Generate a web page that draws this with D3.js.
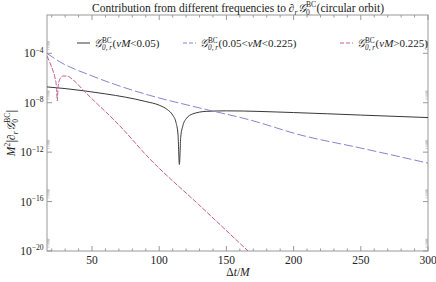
<!DOCTYPE html>
<html><head><meta charset="utf-8">
<script src="https://cdn.jsdelivr.net/npm/d3@7"></script>
<style>
body { margin: 0; background: #fff; }
text { font-family: 'Liberation Serif', 'DejaVu Serif', serif; fill: #222; }
</style>
</head><body>
<script>
const WIDTH = 436
const HEIGHT = 282

// Δt/M values and |value| for each frequency band
const lowT = [16.5, 30, 45, 60, 75, 90, 100, 106, 110, 112.5, 114, 115, 116, 117.5, 120, 125, 135, 150, 200, 250, 300]
const lowV = [1.9e-7, 1.4e-7, 8.9e-8, 5.2e-8, 2.8e-8, 1.25e-8, 6.3e-9, 2.8e-9, 1e-9, 2.5e-10, 2.5e-11, 1e-13, 1.6e-11, 1.25e-10, 5e-10, 1.25e-9, 2e-9, 2.2e-9, 1.6e-9, 1e-9, 6.3e-10]

const midT = [16.5, 26.2, 48.5, 70.8, 91.7, 130.4, 167.6, 204.8, 249.5, 300]
const midV = [1e-4, 2e-5, 1.7e-6, 2.2e-7, 4.3e-8, 3.7e-9, 4e-10, 2.5e-11, 2.2e-12, 1.3e-13]

const highT = [16.5, 18.7, 21.0, 22.5, 23.6, 24.2, 24.7, 25.8, 28.4, 31.4, 35.9, 44.8, 70.8, 91.7, 130.4, 166.1]
const highV = [6e-5, 1.7e-5, 3.7e-6, 1e-6, 1.6e-7, 1.4e-8, 1.6e-7, 7e-7, 1.45e-6, 1.45e-6, 7e-7, 7.4e-8, 1.3e-10, 4e-13, 4.5e-17, 1e-20]

const xTicks = [50, 100, 150, 200, 250, 300]
const yTicks = [1e-4, 1e-8, 1e-12, 1e-16, 1e-20]
const yTickExp = ['4', '8', '12', '16', '20']

const legendCut = ['<0.05)', '<0.225)', '>0.225)']
const legendPre = ['(', '(0.05<', '(']
const COLORS = ['#383838', '#8585cf', '#c45c92']
const DASHES = [null, '9,3', '5,1.5']

const svg = d3.select('body').append('svg')
  .attr('width', WIDTH)
  .attr('height', HEIGHT)

const L = 47, R = 428, T = 15, B = 251

const x = d3.scaleLinear().domain([16.5, 300]).range([L, R])
const y = d3.scaleLog().domain([1e-20, Math.pow(10, -0.9)]).range([B, T])

// draws text made of pieces (plain, italic, stacked sup/sub) and returns its width
function rich(g, x0, y0, parts, size) {
  let cx = x0
  parts.forEach(p => {
    if (p.sup !== undefined || p.sub !== undefined) {
      let w = 0
      if (p.sup) {
        const a = g.append('text').attr('x', cx).attr('y', y0 - size * 0.4)
          .attr('font-size', size * 0.66).text(p.sup)
        w = a.node().getComputedTextLength()
      }
      if (p.sub) {
        const b = g.append('text').attr('x', cx).attr('y', y0 + size * 0.28)
          .attr('font-size', size * 0.66).attr('font-style', p.subIt ? 'italic' : null).text(p.sub)
        w = Math.max(w, b.node().getComputedTextLength())
      }
      cx += w + 0.5
    } else {
      const t = g.append('text').attr('x', cx).attr('y', y0)
        .attr('font-size', size).attr('font-style', p.it ? 'italic' : null).text(p.t)
      cx += t.node().getComputedTextLength()
    }
  })
  return cx - x0
}

// centred rich text
function richCentered(cx, cy, parts, size, rotate) {
  const g = svg.append('g')
  const inner = g.append('g')
  const w = rich(inner, 0, 0, parts, size)
  inner.attr('transform', `translate(${-w / 2}, 0)`)
  g.attr('transform', `translate(${cx}, ${cy})` + (rotate ? ` rotate(${rotate})` : ''))
}

// frame
svg.append('rect')
  .attr('x', L).attr('y', T).attr('width', R - L).attr('height', B - T)
  .attr('fill', 'none').attr('stroke', '#999').attr('stroke-width', 1)

// x ticks (minor every 10), bottom and top
const xMinor = d3.range(20, 301, 10)
;[[B, -1], [T, 1]].forEach(([ey, dir]) => {
  svg.selectAll(null).data(xMinor).enter().append('line')
    .attr('x1', d => x(d)).attr('x2', d => x(d))
    .attr('y1', ey).attr('y2', d => ey + dir * (d % 50 === 0 ? 5 : 2.5))
    .attr('stroke', '#999')
})
svg.selectAll('.xl').data(xTicks).enter().append('text')
  .attr('x', d => x(d)).attr('y', B + 13)
  .attr('text-anchor', 'middle').attr('font-size', 11.5)
  .text(d => d)

// y ticks, with the minor ones 2..9 x 10^k clustered above each major
const yMinor = []
yTicks.forEach(v => { for (let k = 2; k <= 9; k++) yMinor.push(v * k) })
;[[L, 1], [R, -1]].forEach(([ex, dir]) => {
  svg.selectAll(null).data(yTicks).enter().append('line')
    .attr('x1', ex).attr('x2', ex + dir * 5)
    .attr('y1', d => y(d)).attr('y2', d => y(d)).attr('stroke', '#999')
  svg.selectAll(null).data(yMinor).enter().append('line')
    .attr('x1', ex).attr('x2', ex + dir * 2.5)
    .attr('y1', d => y(d)).attr('y2', d => y(d)).attr('stroke', '#aaa').attr('stroke-width', 0.6)
})
yTicks.forEach((v, i) => {
  const g = svg.append('g')
  const w = rich(g, 0, 0, [{ t: '10' }, { sup: '−' + yTickExp[i] }], 11.5)
  g.attr('transform', `translate(${L - 3 - w}, ${y(v) + 4})`)
})

// curves
const clip = svg.append('clipPath').attr('id', 'clip')
clip.append('rect').attr('x', L).attr('y', T).attr('width', R - L).attr('height', B - T)

const line = d3.line().x(d => x(d[0])).y(d => y(d[1])).curve(d3.curveMonotoneX)
const series = [
  d3.zip(lowT, lowV),
  d3.zip(midT, midV),
  d3.zip(highT, highV)
]
svg.append('g').attr('clip-path', 'url(#clip)')
  .selectAll('path').data(series).enter().append('path')
  .attr('d', line)
  .attr('fill', 'none')
  .attr('stroke', (d, i) => COLORS[i])
  .attr('stroke-width', 1)
  .attr('stroke-dasharray', (d, i) => DASHES[i])

// legend
const legendX = [77, 183, 340]
legendCut.forEach((cut, i) => {
  const lx = legendX[i], ly = 43
  svg.append('line')
    .attr('x1', lx).attr('x2', lx + 13).attr('y1', ly).attr('y2', ly)
    .attr('stroke', COLORS[i]).attr('stroke-dasharray', DASHES[i] ? '4,2' : null)
  const g = svg.append('g')
  rich(g, lx + 17, ly + 4, [
    { t: '𝒢', it: true }, { sup: 'BC', sub: '0, r', subIt: true },
    { t: legendPre[i] }, { t: 'νM', it: true }, { t: cut }
  ], 11)
})

// title and axis labels
richCentered(238, 12, [
  { t: 'Contribution from different frequencies to ∂' }, { sub: 'r', subIt: true },
  { t: '𝒢', it: true }, { sup: 'BC', sub: '0' }, { t: ' (circular orbit)' }
], 11.5)
richCentered(238, 276, [{ t: 'Δ' }, { t: 't', it: true }, { t: '/' }, { t: 'M', it: true }], 11.5)
richCentered(15, 133, [
  { t: 'M', it: true }, { sup: '2' }, { t: '|∂' }, { sub: 'r', subIt: true },
  { t: '𝒢', it: true }, { sup: 'BC', sub: '0' }, { t: '|' }
], 11.5, -90)
</script>
</body></html>
